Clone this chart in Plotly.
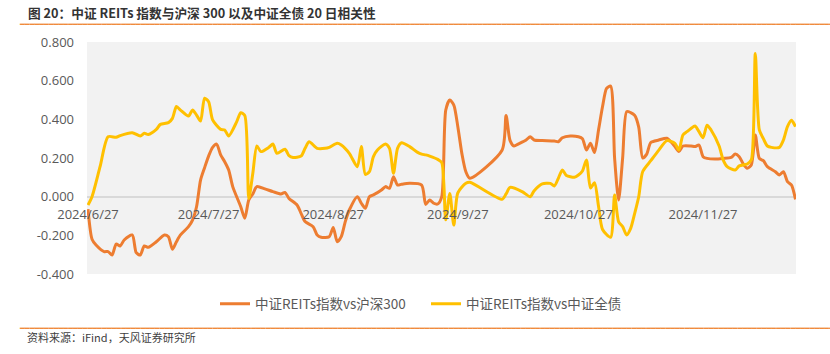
import plotly.graph_objects as go

# ---------------- data ----------------
hs300_dates = [
    "2024-06-27","2024-06-28","2024-06-29","2024-07-01","2024-07-02","2024-07-03","2024-07-04","2024-07-05",
    "2024-07-06","2024-07-08","2024-07-09","2024-07-10","2024-07-11","2024-07-12","2024-07-14","2024-07-16",
    "2024-07-17","2024-07-18","2024-07-19","2024-07-20","2024-07-22","2024-07-23","2024-07-24","2024-07-25",
    "2024-07-26","2024-07-27","2024-07-28","2024-07-29","2024-07-30","2024-07-31","2024-08-01","2024-08-02",
    "2024-08-04","2024-08-05","2024-08-06","2024-08-07","2024-08-08","2024-08-10","2024-08-12","2024-08-14",
    "2024-08-15","2024-08-16","2024-08-18","2024-08-19","2024-08-20","2024-08-22","2024-08-23","2024-08-24",
    "2024-08-26","2024-08-27","2024-08-28","2024-08-29","2024-08-30","2024-08-31","2024-09-02","2024-09-03",
    "2024-09-04","2024-09-05","2024-09-06","2024-09-08","2024-09-09","2024-09-10","2024-09-11","2024-09-12",
    "2024-09-13","2024-09-15","2024-09-18","2024-09-19","2024-09-20","2024-09-21","2024-09-22","2024-09-23",
    "2024-09-24","2024-09-25","2024-09-26","2024-09-27","2024-09-28","2024-09-29","2024-09-30","2024-10-08",
    "2024-10-09","2024-10-10","2024-10-11","2024-10-12","2024-10-14","2024-10-15","2024-10-16","2024-10-18",
    "2024-10-21","2024-10-22","2024-10-23","2024-10-25","2024-10-27","2024-10-28","2024-10-29","2024-10-30",
    "2024-10-31","2024-11-01","2024-11-02","2024-11-03","2024-11-04","2024-11-05","2024-11-06","2024-11-07",
    "2024-11-08","2024-11-09","2024-11-10","2024-11-11","2024-11-12","2024-11-13","2024-11-14","2024-11-16",
    "2024-11-18","2024-11-19","2024-11-20","2024-11-21","2024-11-22","2024-11-24","2024-11-25","2024-11-26",
    "2024-11-27","2024-11-28","2024-11-30","2024-12-02","2024-12-04","2024-12-05","2024-12-06","2024-12-07",
    "2024-12-08","2024-12-09","2024-12-10","2024-12-11","2024-12-12","2024-12-13","2024-12-15","2024-12-16",
    "2024-12-17","2024-12-18","2024-12-19","2024-12-20",
]
hs300_values = [
    -0.064,-0.22,-0.25,-0.284,-0.284,-0.302,-0.245,-0.255,
    -0.224,-0.198,-0.29,-0.302,-0.255,-0.262,-0.233,-0.198,
    -0.207,-0.272,-0.233,-0.198,-0.155,-0.121,-0.052,0.086,
    0.15,0.21,0.255,0.272,0.216,0.181,0.138,0.052,
    -0.052,-0.112,-0.017,0.014,0.052,0.04,0.026,0.014,
    0.022,-0.009,-0.043,-0.086,-0.129,-0.155,-0.198,-0.21,
    -0.207,-0.159,-0.233,-0.207,-0.129,-0.069,0.0,-0.034,
    -0.06,0.0,0.009,0.034,0.052,0.043,0.103,0.06,
    0.064,0.069,0.06,-0.04,-0.017,-0.034,-0.038,0.0,
    0.448,0.5,0.474,0.362,0.224,0.129,0.095,0.24,
    0.42,0.29,0.262,0.272,0.293,0.31,0.293,0.29,
    0.288,0.284,0.305,0.314,0.31,0.3,0.241,0.276,
    0.228,0.345,0.466,0.56,0.572,0.2,-0.017,0.2,
    0.44,0.435,0.42,0.36,0.2,0.22,0.28,0.293,
    0.302,0.284,0.259,0.233,0.262,0.262,0.259,0.267,
    0.207,0.198,0.195,0.198,0.203,0.221,0.207,0.169,
    0.147,0.164,0.319,0.198,0.186,0.155,0.129,0.112,
    0.129,0.078,0.06,-0.014,
]

bond_dates = [
    "2024-06-27","2024-06-28","2024-06-30","2024-07-02","2024-07-04","2024-07-05","2024-07-08","2024-07-10",
    "2024-07-11","2024-07-12","2024-07-14","2024-07-15","2024-07-17","2024-07-18","2024-07-19","2024-07-20",
    "2024-07-22","2024-07-23","2024-07-24","2024-07-25","2024-07-26","2024-07-27","2024-07-28","2024-07-30",
    "2024-07-31","2024-08-01","2024-08-03","2024-08-04","2024-08-05","2024-08-06","2024-08-07","2024-08-08",
    "2024-08-09","2024-08-11","2024-08-12","2024-08-13","2024-08-15","2024-08-16","2024-08-17","2024-08-19",
    "2024-08-20","2024-08-21","2024-08-23","2024-08-25","2024-08-26","2024-08-28","2024-08-29","2024-08-31",
    "2024-09-02","2024-09-03","2024-09-04","2024-09-05","2024-09-06","2024-09-07","2024-09-09","2024-09-10",
    "2024-09-11","2024-09-12","2024-09-13","2024-09-15","2024-09-17","2024-09-18","2024-09-19","2024-09-20",
    "2024-09-22","2024-09-23","2024-09-24","2024-09-25","2024-09-26","2024-09-27","2024-09-29","2024-09-30",
    "2024-10-08","2024-10-09","2024-10-10","2024-10-13","2024-10-15","2024-10-16","2024-10-18","2024-10-20",
    "2024-10-21","2024-10-22","2024-10-23","2024-10-24","2024-10-26","2024-10-27","2024-10-28","2024-10-29",
    "2024-10-30","2024-10-31","2024-11-01","2024-11-02","2024-11-04","2024-11-05","2024-11-06","2024-11-07",
    "2024-11-08","2024-11-09","2024-11-10","2024-11-11","2024-11-12","2024-11-14","2024-11-16","2024-11-18",
    "2024-11-20","2024-11-21","2024-11-22","2024-11-23","2024-11-24","2024-11-25","2024-11-26","2024-11-27",
    "2024-11-28","2024-11-29","2024-12-01","2024-12-02","2024-12-03","2024-12-05","2024-12-06","2024-12-08",
    "2024-12-09","2024-12-10","2024-12-11","2024-12-12","2024-12-13","2024-12-14","2024-12-16","2024-12-17",
    "2024-12-18","2024-12-19","2024-12-20",
]
bond_values = [
    -0.043,0.0,0.155,0.31,0.307,0.316,0.331,0.314,
    0.328,0.322,0.348,0.374,0.383,0.405,0.466,0.448,
    0.417,0.448,0.422,0.391,0.509,0.491,0.397,0.348,
    0.345,0.314,0.388,0.434,0.42,-0.009,0.121,0.262,
    0.233,0.255,0.272,0.224,0.245,0.212,0.203,0.21,
    0.25,0.284,0.25,0.25,0.255,0.276,0.267,0.224,
    0.155,0.259,0.115,0.129,0.207,0.241,0.272,0.25,
    0.121,0.25,0.279,0.259,0.229,0.22,0.216,0.21,
    0.193,0.176,-0.12,0.017,-0.147,0.02,0.069,0.074,
    -0.014,0.014,0.048,0.026,0.0,0.031,0.066,0.069,
    0.055,0.095,0.138,0.11,0.1,0.112,0.133,0.19,
    0.045,0.072,-0.05,-0.17,-0.21,0.009,-0.13,-0.155,
    -0.198,-0.164,-0.086,0.0,0.13,0.186,0.241,0.29,
    0.276,0.241,0.319,0.336,0.353,0.366,0.336,0.305,
    0.37,0.345,0.262,0.19,0.155,0.138,0.159,0.169,
    0.19,0.741,0.345,0.30,0.262,0.255,0.255,0.293,
    0.362,0.395,0.362,
]

series_names = ["中证REITs指数vs沪深300", "中证REITs指数vs中证全债"]
series_colors = ["#ED7D31", "#FFC000"]

x_tick_dates = ["2024-06-27", "2024-07-27", "2024-08-27", "2024-09-27", "2024-10-27", "2024-11-27"]
x_tick_labels = ["2024/6/27", "2024/7/27", "2024/8/27", "2024/9/27", "2024/10/27", "2024/11/27"]
y_tick_vals = [-0.4, -0.2, 0.0, 0.2, 0.4, 0.6, 0.8]
y_tick_labels = ["-0.400", "-0.200", "0.000", "0.200", "0.400", "0.600", "0.800"]

title_text = "图 20：中证 REITs 指数与沪深 300 以及中证全债 20 日相关性"
source_text = "资料来源：iFind，天风证券研究所"

# ---------------- figure (paper = whole 830x354 page) ----------------
W, H = 830, 354

def fx(x):
    return x / W

def fy(y):
    return 1 - y / H

CJK = "Noto Sans CJK SC, Open Sans, sans-serif"
NUM = "Open Sans, Noto Sans CJK SC, sans-serif"
RULE = "#F08A3C"

fig = go.Figure()
for dates, vals, name, color in [
    (hs300_dates, hs300_values, series_names[0], series_colors[0]),
    (bond_dates, bond_values, series_names[1], series_colors[1]),
]:
    fig.add_trace(go.Scatter(
        x=dates, y=vals, name=name, mode="lines",
        line=dict(color=color, width=3, shape="spline", smoothing=0.7),
    ))

fig.update_layout(
    width=W, height=H,
    margin=dict(l=0, r=0, t=0, b=0, autoexpand=False),
    paper_bgcolor="white",
    plot_bgcolor="#F2F2F2",
    showlegend=True,
    legend=dict(
        orientation="h", x=fx(215), xanchor="left", y=fy(304), yanchor="middle",
        font=dict(family=CJK, size=13.5, color="#595959"),
        bgcolor="rgba(0,0,0,0)", itemwidth=30, tracegroupgap=0,
        entrywidth=166, entrywidthmode="pixels",
    ),
    xaxis=dict(
        type="date", domain=[fx(87), fx(796)],
        range=["2024-06-26 18:00", "2024-12-20 03:00"],
        tickvals=x_tick_dates, ticktext=x_tick_labels,
        anchor="free", position=fy(196.7),
        showgrid=False, zeroline=False, showline=False, ticks="",
        ticklabelstandoff=8,
        tickfont=dict(family=NUM, size=13, color="#595959"),
    ),
    yaxis=dict(
        domain=[fy(274), fy(42)],
        range=[-0.4, 0.8],
        tickvals=y_tick_vals, ticktext=y_tick_labels,
        showgrid=False, zeroline=True, zerolinecolor="#D9D9D9", zerolinewidth=1.5,
        showline=False, ticks="", ticklabelstandoff=12,
        tickfont=dict(family=NUM, size=13, color="#595959"),
    ),
)

fig.add_annotation(
    text="<b>" + title_text + "</b>", xref="paper", yref="paper",
    x=fx(26), y=fy(12), xanchor="left", yanchor="middle", showarrow=False,
    font=dict(family=CJK, size=12.7, color="#333333"),
)
fig.add_annotation(
    text=source_text, xref="paper", yref="paper",
    x=fx(25), y=fy(337), xanchor="left", yanchor="middle", showarrow=False,
    font=dict(family=CJK, size=11, color="#404040"),
)
# orange rules under the title and above the source note (drawn as text glyphs)
rule_text = "\u2501" * 175
for yy in (24, 328):
    fig.add_annotation(
        text=rule_text, xref="paper", yref="paper",
        x=fx(18), y=fy(yy), xanchor="left", yanchor="middle", showarrow=False,
        borderpad=0, font=dict(family="DejaVu Sans Mono", size=8, color=RULE),
    )

fig.write_html("out.html")
